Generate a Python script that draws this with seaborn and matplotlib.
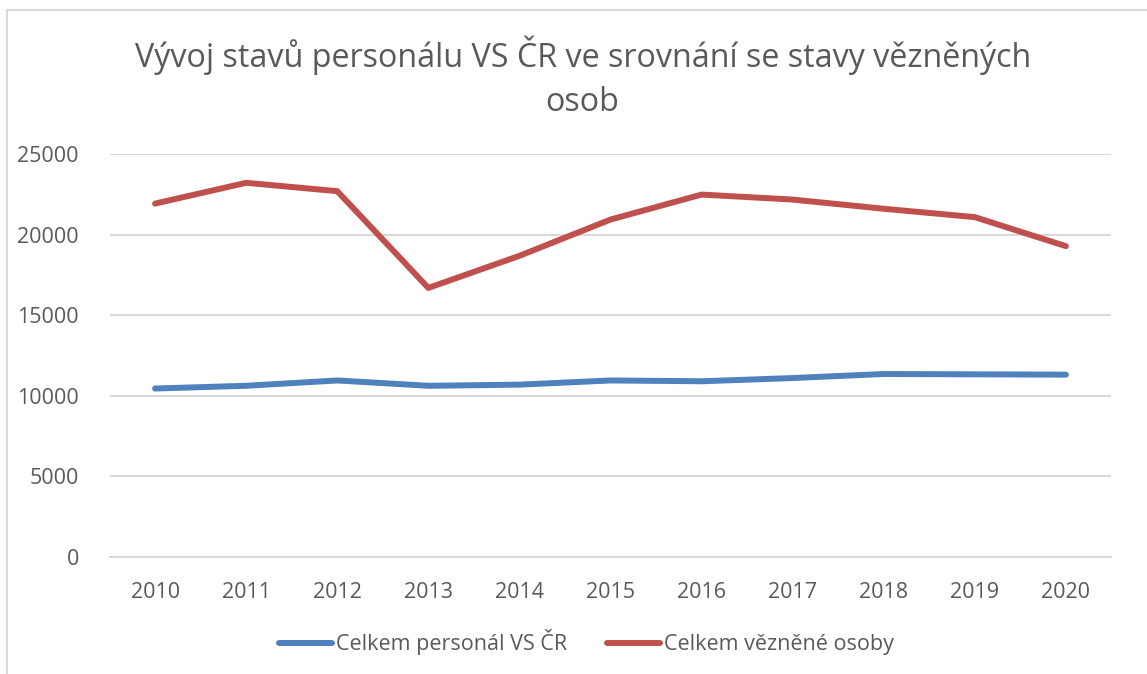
import pandas as pd
import matplotlib.pyplot as plt
import seaborn as sns
from matplotlib.patches import Rectangle

# ------------------ DATA ------------------

years = ["2010", "2011", "2012", "2013", "2014", "2015",
         "2016", "2017", "2018", "2019", "2020"]
personal = [10450, 10620, 10950, 10620, 10690, 10950,
            10900, 11100, 11350, 11330, 11310]
vezni = [21920, 23210, 22690, 16690, 18680, 20930,
         22480, 22170, 21600, 21080, 19280]

label_personal = "Celkem personál VS ČR"
label_vezni = "Celkem vězněné osoby"
title = "Vývoj stavů personálu VS ČR ve srovnání se stavy vězněných\nosob"

df = pd.DataFrame({
    "rok": years * 2,
    "pocet": personal + vezni,
    "serie": [label_personal] * len(years) + [label_vezni] * len(years),
})

# ------------------ STYLE ------------------

sns.set_theme(style="white")
plt.rcParams["font.family"] = ["Open Sans", "DejaVu Sans"]

TEXT = "#595959"
GRID = "#D9D9D9"
palette = {label_personal: "#4F81BD", label_vezni: "#C0504D"}

# ------------------ PLOT ------------------

fig = plt.figure(figsize=(11.47, 6.74), dpi=100)
ax = fig.add_axes([0.0955, 0.1736, 0.8735, 0.598])

sns.lineplot(data=df, x="rok", y="pocet", hue="serie", palette=palette,
             linewidth=4.3, ax=ax, sort=False, legend=True,
             solid_capstyle="round")

ax.set_xlim(-0.5, len(years) - 0.5)
ax.set_ylim(0, 25000)
ax.set_yticks(range(0, 25001, 5000))
ax.yaxis.grid(True, color=GRID, linewidth=1.5)
ax.xaxis.grid(False)
ax.set_axisbelow(True)
for side in ["top", "right", "left"]:
    ax.spines[side].set_visible(False)
ax.spines["bottom"].set_color(GRID)
ax.spines["bottom"].set_linewidth(1.5)
ax.tick_params(axis="both", length=0, labelsize=15.5, colors=TEXT)
ax.tick_params(axis="y", pad=22)
ax.tick_params(axis="x", pad=18)
ax.set_xlabel("")
ax.set_ylabel("")

fig.suptitle(title, x=0.508, y=0.948, fontsize=23.2, color=TEXT,
             linespacing=1.45, va="top")

handles, labels = ax.get_legend_handles_labels()
ax.legend(handles, labels, loc="center", bbox_to_anchor=(0.511, 0.047),
          bbox_transform=fig.transFigure, ncol=2, frameon=False,
          fontsize=15.5, labelcolor=TEXT, handlelength=2.5,
          handletextpad=0.15, columnspacing=1.85)

# chart border
fig.patches.append(Rectangle((0.006, -0.01), 1.1, 0.995,
                             transform=fig.transFigure, fill=False,
                             edgecolor=GRID, linewidth=1.5))

fig.savefig("out.png", dpi=100)
plt.close(fig)
